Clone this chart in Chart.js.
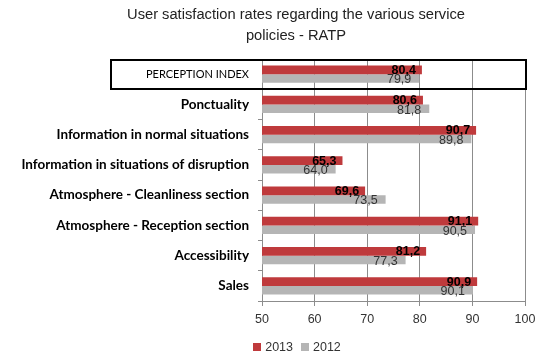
<!DOCTYPE html>
<html>
<head>
<meta charset="utf-8">
<script src="https://cdn.jsdelivr.net/npm/chart.js@4.4.0/dist/chart.umd.min.js"></script>
<style>
html,body{margin:0;padding:0;background:#fff;}
#wrap{width:550px;height:361px;}
</style>
</head>
<body>
<div id="wrap"><canvas id="c" width="550" height="361"></canvas></div>
<script>
const categories = [
  "PERCEPTION INDEX",
  "Ponctuality",
  "Information in normal situations",
  "Information in situations of disruption",
  "Atmosphere - Cleanliness section",
  "Atmosphere - Reception section",
  "Accessibility",
  "Sales"
];
const values2013 = [80.4, 80.6, 90.7, 65.3, 69.6, 91.1, 81.2, 90.9];
const values2012 = [79.9, 81.8, 89.8, 64.0, 73.5, 90.5, 77.3, 90.1];
const xTicks = [50, 60, 70, 80, 90, 100];
const titleLines = ["User satisfaction rates regarding the various service", "policies - RATP"];
const seriesNames = ["2013", "2012"];
const seriesColors = ["#BF3A3C", "#B5B5B5"];

const LABEL_FONT = "Lato";
const SANS = '"Liberation Sans", Arial, sans-serif';
const labelFontFor = (i) => i === 0
  ? {family: LABEL_FONT, size: 11, weight: 'normal'}
  : {family: LABEL_FONT, size: 13.5, weight: 'bold'};

const fmt = v => v.toFixed(1).replace('.', ',');

const valueLabels = {
  id: 'valueLabels',
  afterDatasetsDraw(chart) {
    const ctx = chart.ctx;
    ctx.save();
    chart.data.datasets.forEach((ds, di) => {
      const meta = chart.getDatasetMeta(di);
      meta.data.forEach((bar, i) => {
        const v = ds.data[i];
        ctx.textAlign = 'right';
        ctx.textBaseline = 'middle';
        if (di === 0) {
          ctx.font = 'bold 12.5px ' + SANS;
          ctx.fillStyle = '#000';
          ctx.fillText(fmt(v), bar.x - 6, bar.y + 0.5);
        } else {
          ctx.font = '12.5px ' + SANS;
          ctx.fillStyle = '#333';
          ctx.fillText(fmt(v), bar.x - 8, bar.y + 1.5);
        }
      });
    });
    ctx.restore();
  }
};

const decor = {
  id: 'decor',
  afterDraw(chart) {
    const ctx = chart.ctx;
    const y = chart.scales.y;
    const area = chart.chartArea;
    // box around first category
    const half = (y.getPixelForValue(1) - y.getPixelForValue(0)) / 2;
    const top = y.getPixelForValue(0) - half;
    const bottom = y.getPixelForValue(0) + half;
    const f = labelFontFor(0);
    ctx.save();
    ctx.font = `${f.weight} ${f.size}px ${f.family}`;
    const w = ctx.measureText(categories[0]).width;
    const labelRight = area.left - 13;
    const left = labelRight - w - 35;
    ctx.strokeStyle = '#000';
    ctx.lineWidth = 2;
    ctx.strokeRect(Math.round(left), Math.round(top) + 1, Math.round(area.right + 1 - left), Math.round(bottom - top) - 1);

    // title
    const cx = 296;
    ctx.fillStyle = '#222';
    ctx.font = '14.7px ' + SANS;
    ctx.textAlign = 'center';
    ctx.textBaseline = 'middle';
    ctx.fillText(titleLines[0], cx, 15);
    ctx.fillText(titleLines[1], cx, 36);

    // legend
    ctx.font = '12.5px ' + SANS;
    const tw = seriesNames.map(s => ctx.measureText(s).width);
    const box = 8, gap = 4, sep = 8;
    const total = box + gap + tw[0] + sep + box + gap + tw[1];
    let x = 297 - total / 2;
    const ly = 347;
    ctx.textAlign = 'left';
    for (let i = 0; i < seriesNames.length; i++) {
      ctx.fillStyle = seriesColors[i];
      ctx.fillRect(Math.round(x), ly - 4, box, box);
      x += box + gap;
      ctx.fillStyle = '#333';
      ctx.fillText(seriesNames[i], x, ly + 0.5);
      x += tw[i] + sep;
    }
    ctx.restore();
  }
};

new Chart(document.getElementById('c'), {
  type: 'bar',
  data: {
    labels: categories,
    datasets: [
      {label: seriesNames[0], data: values2013, backgroundColor: seriesColors[0], borderWidth: 0, categoryPercentage: 0.57, barPercentage: 1.0},
      {label: seriesNames[1], data: values2012, backgroundColor: seriesColors[1], borderWidth: 0, categoryPercentage: 0.57, barPercentage: 1.0}
    ]
  },
  options: {
    indexAxis: 'y',
    responsive: false,
    animation: false,
    layout: {padding: {left: 0, right: 25, top: 59, bottom: 28}},
    plugins: {
      title: {display: false},
      legend: {display: false},
      tooltip: {enabled: false}
    },
    scales: {
      x: {
        min: 50, max: 100,
        afterBuildTicks(scale) { scale.ticks = xTicks.map(v => ({value: v})); },
        grid: {color: '#8C8C8C', lineWidth: 1, drawTicks: true, tickLength: 5, tickColor: '#8C8C8C'},
        border: {color: '#8C8C8C'},
        ticks: {color: '#333', padding: 6, font: {family: SANS, size: 12.5}}
      },
      y: {
        afterFit(scale) { scale.width = 262; },
        grid: {drawOnChartArea: false, drawTicks: true, tickLength: 4, offset: true, color: '#8C8C8C'},
        border: {color: '#8C8C8C'},
        ticks: {
          color: '#000', padding: 9,
          font: (c) => labelFontFor(c.index)
        }
      }
    }
  },
  plugins: [valueLabels, decor]
});
</script>
</body>
</html>
